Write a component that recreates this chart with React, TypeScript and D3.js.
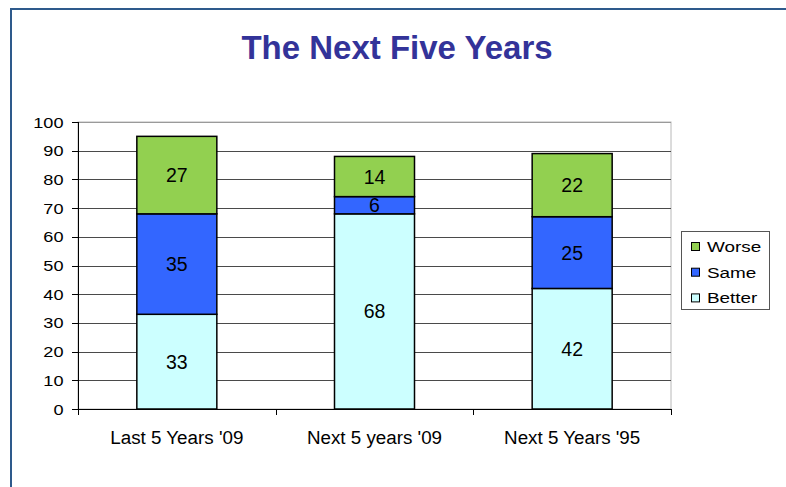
import React from "react";
import * as d3 from "d3";

const categories = ["Last 5 Years '09", "Next 5 years '09", "Next 5 Years '95"];
const seriesNames = ["Better", "Same", "Worse"];
const better = [33, 68, 42];
const same = [35, 6, 25];
const worse = [27, 14, 22];
const yTicks = [0, 10, 20, 30, 40, 50, 60, 70, 80, 90, 100];
const colors: Record<string, string> = { Better: "#CCFFFF", Same: "#3366FF", Worse: "#92D050" };

const W = 786;
const H = 487;
const FONT = "Arial, 'Liberation Sans', Helvetica, sans-serif";

function SText(props: { x: number; y: number; sx?: number; size: number; anchor?: string; children: any; fill?: string; weight?: any }) {
  const { x, y, sx = 1, size, anchor = "start", children, fill = "#000", weight = "normal" } = props;
  return (
    <g transform={`translate(${x},${y}) scale(${sx},1)`}>
      <text x={0} y={0} fontSize={size} textAnchor={anchor as any} fill={fill} fontWeight={weight} fontFamily={FONT}>
        {children}
      </text>
    </g>
  );
}

export default function App() {
  const left = 78, right = 671, top = 122, bottom = 409;
  const x = d3.scaleBand<string>().domain(categories).range([left, right]).paddingInner(0).paddingOuter(0);
  const y = d3.scaleLinear().domain([0, 100]).range([bottom, top]);
  const barW = 80;

  const rows = categories.map((c, i) => ({ cat: c, Better: better[i], Same: same[i], Worse: worse[i] }));
  const stack = d3.stack<any>().keys(seriesNames)(rows);

  const legendItems = ["Worse", "Same", "Better"];

  return (
    <svg width={W} height={H} style={{ position: "absolute", left: 0, top: 0, background: "#fff" }}>
      <rect x={0} y={0} width={W} height={H} fill="#fff" />
      {/* frame */}
      <line x1={11} y1={9} x2={W + 5} y2={9} stroke="#2E5A8C" strokeWidth={2} />
      <line x1={11} y1={8} x2={11} y2={H + 5} stroke="#2E5A8C" strokeWidth={2} />

      {/* title */}
      <text x={397} y={59} textAnchor="middle" fontSize={33} fontWeight="bold" fill="#333399" fontFamily={FONT}>
        The Next Five Years
      </text>

      {/* plot border */}
      <rect x={left} y={top} width={right - left} height={bottom - top} fill="none" stroke="#b8b8b8" strokeWidth={1} />

      {/* gridlines */}
      {yTicks.filter((t) => t > 0).map((t) => (
        <line key={t} x1={left} x2={right} y1={Math.round(y(t)) + 0.5} y2={Math.round(y(t)) + 0.5} stroke={t === 100 ? "#9a9a9a" : "#4a4a4a"} strokeWidth={1} />
      ))}

      {/* bars */}
      {stack.map((layer) => (
        <g key={layer.key}>
          {layer.map((d, i) => {
            const cx = (x(categories[i]) as number) + x.bandwidth() / 2;
            const y0 = y(d[0]);
            const y1 = y(d[1]);
            const val = d[1] - d[0];
            return (
              <g key={i}>
                <rect x={cx - barW / 2} y={y1} width={barW} height={y0 - y1} fill={colors[layer.key]} stroke="#000" strokeWidth={1.5} />
                <text x={cx} y={(y0 + y1) / 2 + 7} textAnchor="middle" fontSize={19.5} fontFamily={FONT} fill="#000">
                  {val}
                </text>
              </g>
            );
          })}
        </g>
      ))}

      {/* y axis */}
      <line x1={left + 0.5} x2={left + 0.5} y1={top} y2={bottom} stroke="#000" strokeWidth={1} />
      {yTicks.map((t) => (
        <g key={t}>
          <line x1={left - 6} x2={left} y1={Math.round(y(t)) + 0.5} y2={Math.round(y(t)) + 0.5} stroke="#000" />
          <SText x={63.5} y={y(t) + 5.5} sx={1.17} size={15.5} anchor="end">
            {t}
          </SText>
        </g>
      ))}

      {/* x axis */}
      <line x1={left} x2={right} y1={bottom + 0.5} y2={bottom + 0.5} stroke="#000" strokeWidth={1} />
      {[0, 1, 2, 3].map((i) => {
        const xx = Math.round(left + i * x.bandwidth()) + 0.5;
        return <line key={i} x1={xx} x2={xx} y1={bottom} y2={bottom + 6} stroke="#000" />;
      })}
      {categories.map((c) => (
        <text key={c} x={(x(c) as number) + x.bandwidth() / 2} y={444} textAnchor="middle" fontSize={18.8} fontFamily={FONT} fill="#000">
          {c}
        </text>
      ))}

      {/* legend */}
      <rect x={681.5} y={231.5} width={88} height={78} fill="#fff" stroke="#555" strokeWidth={1} />
      {legendItems.map((k, i) => (
        <g key={k}>
          <rect x={691.5} y={242.5 + i * 25.7} width={8} height={8} fill={colors[k]} stroke="#000" strokeWidth={1} />
          <SText x={707} y={252 + i * 25.7} sx={1.22} size={15.5}>
            {k}
          </SText>
        </g>
      ))}
    </svg>
  );
}
